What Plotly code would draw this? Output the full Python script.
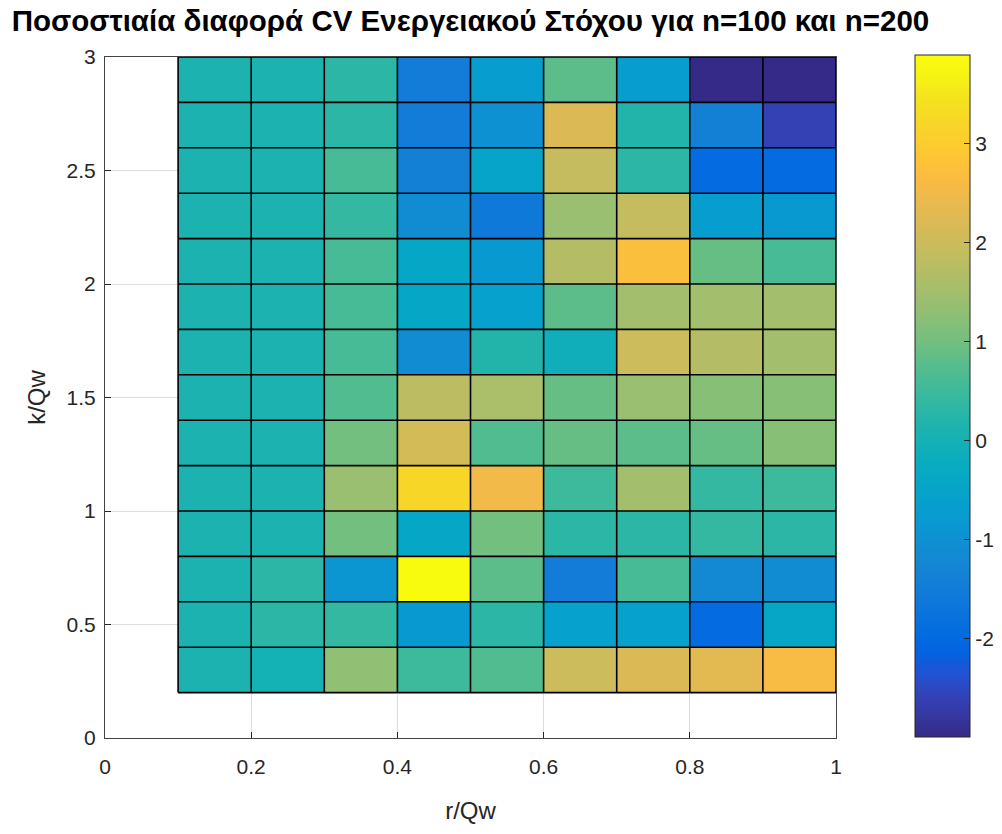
import plotly.graph_objects as go

# Grid edges (pcolor-style: cells between consecutive edges)
r_edges = [0.1, 0.2, 0.3, 0.4, 0.5, 0.6, 0.7, 0.8, 0.9, 1.0]
k_edges = [0.2, 0.4, 0.6, 0.8, 1.0, 1.2, 1.4, 1.6, 1.8, 2.0, 2.2, 2.4, 2.6, 2.8, 3.0]

# Percentage difference of the CV, one row per k/Qw cell (bottom row first)
row_k02 = [0.1, 0.0, 1.3, 0.5, 0.7, 2.0, 2.2, 2.3, 2.6]
row_k04 = [0.1, 0.3, 0.4, -0.8, 0.3, -0.6, -0.6, -1.95, -0.4]
row_k06 = [0.1, 0.3, -0.9, 3.89, 0.8, -1.5, 0.6, -1.2, -1.1]
row_k08 = [0.1, 0.1, 1.0, -0.4, 1.0, 0.3, 0.3, 0.4, 0.3]
row_k10 = [0.1, 0.1, 1.4, 3.2, 2.5, 0.5, 1.5, 0.4, 0.5]
row_k12 = [0.1, 0.1, 1.0, 2.1, 0.7, 0.9, 0.8, 0.9, 1.2]
row_k14 = [0.1, 0.1, 0.7, 1.8, 1.6, 0.9, 1.4, 1.2, 1.2]
row_k16 = [0.1, 0.1, 0.6, -1.1, 0.2, -0.1, 2.0, 1.7, 1.5]
row_k18 = [0.1, 0.1, 0.6, -0.4, -0.6, 0.8, 1.5, 1.5, 1.5]
row_k20 = [0.1, 0.1, 0.6, -0.4, -0.8, 1.7, 2.7, 0.9, 0.6]
row_k22 = [0.1, 0.1, 0.4, -1.1, -1.6, 1.4, 1.9, -0.7, -0.8]
row_k24 = [0.1, 0.1, 0.6, -1.4, -0.5, 1.9, 0.3, -1.95, -1.95]
row_k26 = [0.1, 0.1, 0.3, -1.5, -1.0, 2.2, 0.2, -1.4, -2.6]
row_k28 = [0.1, 0.1, 0.3, -1.5, -0.7, 0.8, -0.7, -2.99, -2.99]

z = [row_k02, row_k04, row_k06, row_k08, row_k10, row_k12, row_k14,
     row_k16, row_k18, row_k20, row_k22, row_k24, row_k26, row_k28]

x_ticks = [0, 0.2, 0.4, 0.6, 0.8, 1]
x_labels = ["0", "0.2", "0.4", "0.6", "0.8", "1"]
y_ticks = [0, 0.5, 1, 1.5, 2, 2.5, 3]
y_labels = ["0", "0.5", "1", "1.5", "2", "2.5", "3"]
cbar_ticks = [-2, -1, 0, 1, 2, 3]
cbar_labels = ["-2", "-1", "0", "1", "2", "3"]

# MATLAB parula colormap (sampled)
parula = [
    (0.2081, 0.1663, 0.5292), (0.2123, 0.2138, 0.6270), (0.1959, 0.2645, 0.7279),
    (0.1253, 0.3242, 0.8303), (0.0117, 0.3875, 0.8820), (0.0165, 0.4266, 0.8786),
    (0.0498, 0.4586, 0.8641), (0.0723, 0.4887, 0.8467), (0.0793, 0.5200, 0.8312),
    (0.0641, 0.5570, 0.8240), (0.0343, 0.5966, 0.8199), (0.0239, 0.6287, 0.8038),
    (0.0228, 0.6535, 0.7768), (0.0384, 0.6743, 0.7436), (0.0843, 0.6928, 0.7062),
    (0.1453, 0.7098, 0.6646), (0.2178, 0.7250, 0.6193), (0.3022, 0.7376, 0.5712),
    (0.3953, 0.7459, 0.5244), (0.4871, 0.7491, 0.4840), (0.5709, 0.7485, 0.4494),
    (0.6473, 0.7456, 0.4188), (0.7184, 0.7411, 0.3905), (0.7858, 0.7356, 0.3633),
    (0.8507, 0.7299, 0.3360), (0.9139, 0.7258, 0.3063), (0.9739, 0.7314, 0.2666),
    (0.9990, 0.7653, 0.2164), (0.9880, 0.8066, 0.1794), (0.9697, 0.8481, 0.1475),
    (0.9589, 0.8949, 0.1132), (0.9661, 0.9514, 0.0755), (0.9763, 0.9831, 0.0538),
]
n = len(parula)
colorscale = [
    [i / (n - 1), "rgb(%d,%d,%d)" % tuple(round(c * 255) for c in rgb)]
    for i, rgb in enumerate(parula)
]

# Cell edge lines drawn from the grid edges
ex, ey = [], []
for xv in r_edges:
    ex += [xv, xv, None]
    ey += [k_edges[0], k_edges[-1], None]
for yv in k_edges:
    ex += [r_edges[0], r_edges[-1], None]
    ey += [yv, yv, None]

font_family = "Liberation Sans, Arial, sans-serif"
tick_color = "#262626"

fig = go.Figure()
fig.add_trace(go.Heatmap(
    x=r_edges, y=k_edges, z=z,
    colorscale=colorscale, zsmooth=False,
    colorbar=dict(
        x=(915 - 105) / (836 - 105), xanchor="left", xpad=0,
        y=(834 - 96 - (55 + 737) / 2) / (834 - 57 - 96), yanchor="middle", ypad=0,
        thickness=55, thicknessmode="pixels",
        len=682, lenmode="pixels",
        outlinecolor=tick_color, outlinewidth=1,
        tickvals=cbar_ticks, ticktext=cbar_labels,
        ticks="inside", ticklen=6, tickcolor=tick_color,
        tickfont=dict(family=font_family, size=21, color=tick_color),
    ),
))
fig.add_trace(go.Scatter(
    x=ex, y=ey, mode="lines",
    line=dict(color="black", width=1.6),
    hoverinfo="skip", showlegend=False,
))

axis_common = dict(
    showline=True, mirror=True, linecolor="#444444", linewidth=1,
    ticks="inside", ticklen=6, tickcolor=tick_color,
    showgrid=True, gridcolor="#dedede", gridwidth=1,
    zeroline=False,
    tickfont=dict(family=font_family, size=21, color=tick_color),
)

fig.update_layout(
    width=1002, height=834,
    margin=dict(l=105, r=166, t=57, b=96, autoexpand=False),
    plot_bgcolor="white", paper_bgcolor="white",
    title=dict(
        text="<b>Ποσοστιαία διαφορά CV Ενεργειακού Στόχου για n=100 και n=200</b>",
        x=(105 + 836) / 2 / 1002, xanchor="center",
        y=1 - 21 / 834, yanchor="middle",
        font=dict(family=font_family, size=29.5, color="black"),
    ),
    xaxis=dict(
        range=[0, 1], tickvals=x_ticks, ticktext=x_labels,
        ticklabelstandoff=10,
        title=dict(text="r/Qw", font=dict(family=font_family, size=24, color=tick_color),
                   standoff=24),
        **axis_common,
    ),
    yaxis=dict(
        range=[0, 3], tickvals=y_ticks, ticktext=y_labels,
        ticklabelstandoff=4,
        title=dict(text="k/Qw", font=dict(family=font_family, size=24, color=tick_color),
                   standoff=14),
        **axis_common,
    ),
    showlegend=False,
)

fig.write_html("out.html")
